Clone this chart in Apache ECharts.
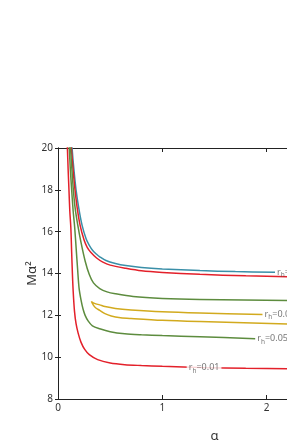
<!DOCTYPE html>
<html><head><meta charset="utf-8">
<script src="https://cdn.jsdelivr.net/npm/echarts@6/dist/echarts.min.js"></script>
<style>html,body{margin:0;padding:0;background:#fff;overflow:hidden;width:287px;height:448px}#c{width:401px;height:448px}</style>
</head><body><div id="c"></div>
<script>
// Curve data: [alpha, M*alpha^2]
const blueCurve = [[0.13,20.5],[0.135,20],[0.152,19],[0.173,18],[0.2,17.1],[0.231,16.3],[0.27,15.65],[0.3,15.35],[0.333,15.1],[0.37,14.92],[0.40,14.8],[0.46,14.62],[0.55,14.48],[0.65,14.38],[0.8,14.29],[1.0,14.22],[1.36,14.14],[1.7,14.09],[2.08,14.06]];
const redUpper = [[0.123,20.5],[0.128,20],[0.144,19],[0.163,18],[0.185,17.1],[0.212,16.3],[0.25,15.6],[0.28,15.25],[0.316,15.0],[0.37,14.74],[0.43,14.54],[0.5,14.4],[0.65,14.25],[0.8,14.13],[1.0,14.05],[1.36,13.96],[1.8,13.89],[2.2,13.85],[3.0,13.81]];
const greenUpper = [[0.115,20.5],[0.12,20],[0.133,19],[0.147,18],[0.165,17.1],[0.19,16.3],[0.22,15.5],[0.26,14.6],[0.3,13.95],[0.34,13.55],[0.4,13.28],[0.47,13.12],[0.55,13.03],[0.72,12.9],[1.0,12.81],[1.36,12.76],[2.2,12.71],[3.0,12.68]];
const yellowUpper = [[0.32,12.66],[0.35,12.57],[0.40,12.5],[0.45,12.42],[0.55,12.33],[0.7,12.26],[1.0,12.17],[1.36,12.11],[1.96,12.04]];
const yellowLower = [[0.32,12.66],[0.335,12.52],[0.36,12.36],[0.40,12.24],[0.45,12.08],[0.51,11.97],[0.6,11.89],[0.7,11.85],[1.0,11.76],[1.36,11.70],[2.2,11.59],[3.0,11.55]];
const greenLower = [[0.103,20.5],[0.108,20],[0.118,19],[0.131,18],[0.145,17],[0.16,16.2],[0.174,15.2],[0.188,14.2],[0.202,13.3],[0.22,12.75],[0.24,12.3],[0.26,12.0],[0.29,11.72],[0.33,11.5],[0.4,11.36],[0.5,11.22],[0.64,11.12],[0.8,11.07],[1.0,11.03],[1.36,10.98],[1.89,10.88]];
const redLower = [[0.085,20.5],[0.09,20],[0.097,19],[0.105,18],[0.113,17],[0.123,16.2],[0.131,15],[0.138,14],[0.146,13.1],[0.158,12.2],[0.173,11.6],[0.193,11.15],[0.22,10.72],[0.256,10.37],[0.3,10.12],[0.38,9.88],[0.5,9.72],[0.64,9.64],[0.8,9.6],[1.0,9.56],[1.4,9.5],[1.8,9.47],[2.2,9.45],[3.0,9.42]];
// Curve labels: [alpha, M, h-value text]
const endLabels = [[2.08,14.06,'0.2'],[1.96,12.04,'0.08'],[1.89,10.88,'0.05']];
const midLabels = [[1.40,9.49,'0.01']];
const xTicks = [0,1,2,3];
const yTicks = [8,10,12,14,16,18,20];

const C = {red:'#e3202a', blue:'#3a8fa8', green:'#5d8c3e', yellow:'#d2aa1e'};
const FONT = 'Noto Sans';
function lineSeries(data, color){
  return {type:'line', data, showSymbol:false, smooth:0.3, clip:true, z:2,
    lineStyle:{color, width:1.5}, itemStyle:{color}};
}
const labelRich = {
  r:{fontSize:9, color:'#555', fontFamily:FONT},
  h:{fontSize:6.5, color:'#555', fontFamily:FONT, verticalAlign:'bottom', lineHeight:13, padding:[6,0,0,0]},
  v:{fontSize:9, color:'#555', fontFamily:FONT}
};
function fmt(p){ return '{r|r}{h|h}{v|=' + p.data[2] + '}'; }

const yellowLoop = yellowLower.slice().reverse().concat(yellowUpper.slice(1));

const option = {
  animation:false,
  grid:{left:58, top:148, bottom:47, right:30, containLabel:false},
  xAxis:[{type:'value', min:xTicks[0], max:xTicks[xTicks.length-1], interval:1, position:'bottom',
    name:'α', nameLocation:'middle', nameGap:31, nameMoveOverlap:false,
    nameTextStyle:{fontSize:13, color:'#333', fontFamily:FONT},
    axisLine:{show:true, lineStyle:{color:'#222', width:1}},
    axisTick:{show:true, inside:true, length:4, lineStyle:{color:'#222'}},
    axisLabel:{fontSize:10, color:'#333', margin:4, fontFamily:FONT},
    splitLine:{show:false}},
   {type:'value', min:xTicks[0], max:xTicks[xTicks.length-1], interval:1, position:'top',
    axisLine:{show:true, lineStyle:{color:'#222', width:1}},
    axisTick:{show:true, inside:true, length:4, lineStyle:{color:'#222'}},
    axisLabel:{show:false}, splitLine:{show:false}}],
  yAxis:[{type:'value', min:yTicks[0], max:yTicks[yTicks.length-1], interval:2, position:'left',
    name:'Mα²', nameLocation:'middle', nameGap:19, nameRotate:90, nameMoveOverlap:false,
    nameTextStyle:{fontSize:13, color:'#333', fontFamily:FONT},
    axisLine:{show:true, lineStyle:{color:'#222', width:1}},
    axisTick:{show:true, inside:true, length:3, lineStyle:{color:'#222'}},
    axisLabel:{fontSize:10, color:'#333', margin:5, fontFamily:FONT},
    splitLine:{show:false}},
   {type:'value', min:yTicks[0], max:yTicks[yTicks.length-1], interval:2, position:'right',
    axisLine:{show:true, lineStyle:{color:'#222', width:1}},
    axisTick:{show:true, inside:true, length:3}, axisLabel:{show:false}, splitLine:{show:false}}],
  series:[
    lineSeries(blueCurve, C.blue),
    lineSeries(redUpper, C.red),
    lineSeries(greenUpper, C.green),
    lineSeries(yellowLoop, C.yellow),
    lineSeries(greenLower, C.green),
    lineSeries(redLower, C.red),
    {type:'scatter', data:endLabels, symbolSize:0, z:5, silent:true,
      label:{show:true, position:'right', distance:2, formatter:fmt, rich:labelRich}},
    {type:'scatter', data:midLabels, symbolSize:0, z:5, silent:true,
      label:{show:true, position:'inside', formatter:fmt, rich:labelRich, backgroundColor:'#fff', padding:[0,2]}}
  ]
};
echarts.init(document.getElementById('c')).setOption(option);
</script></body></html>
